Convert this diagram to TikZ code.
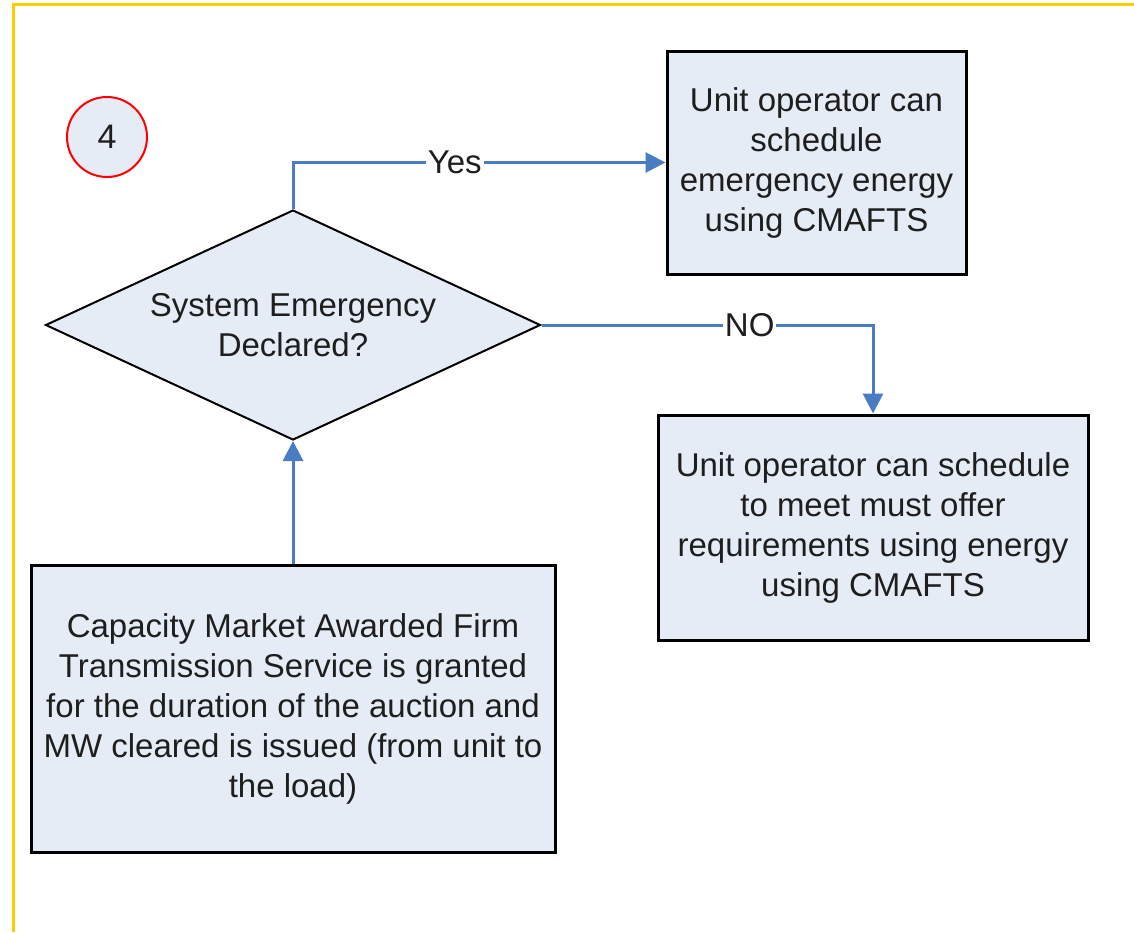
\documentclass[tikz,border=0pt]{standalone}
\usepackage{fontspec}
\setmainfont{Liberation Sans}
\usetikzlibrary{shapes.geometric,arrows.meta}
\definecolor{boxfill}{HTML}{E6ECF6}
\definecolor{flowblue}{HTML}{4A7CC4}
\definecolor{frameyellow}{HTML}{FFCC00}
\definecolor{inkgray}{HTML}{1E1E1E}
\begin{document}
\begin{tikzpicture}[x=1pt, y=-1pt, font=\fontsize{33}{40}\selectfont, text=inkgray]
    \tikzstyle{stepbox} = [rectangle, draw=black, line width=3pt, fill=boxfill, align=center, inner sep=0pt]
    \tikzstyle{decision} = [diamond, draw=black, line width=2pt, fill=boxfill, align=center, aspect=2.15, inner sep=0pt, minimum width=495pt, minimum height=230pt]
    \tikzstyle{flow} = [draw=flowblue, line width=3pt, -{Triangle[length=20pt,width=20pt]}]
    \tikzstyle{flowlabel} = [fill=white, inner sep=2pt]

    \useasboundingbox (0,0) rectangle (1134,932);
    % page frame
    \draw [frameyellow, line width=3pt] (13.5,932) -- (13.5,4.5) -- (1134,4.5);

    \node [circle, draw=red, line width=2pt, fill=boxfill, minimum size=80pt, inner sep=0pt, font=\fontsize{34}{40}\selectfont] (step) at (107,137) {4};

    \node [decision] (emerg) at (293,325) {System Emergency\\Declared?};
    \node [stepbox, minimum width=299pt, minimum height=223pt] (yesbox) at (816.5,162.5) {Unit operator can\\schedule\\emergency energy\\using CMAFTS};
    \node [stepbox, minimum width=430pt, minimum height=225pt] (nobox) at (873,527.5) {Unit operator can schedule\\to meet must offer\\requirements using energy\\using CMAFTS};
    \node [stepbox, minimum width=524pt, minimum height=287pt] (cmafts) at (293,708.5) {Capacity Market Awarded Firm\\Transmission Service is granted\\for the duration of the auction and\\MW cleared is issued (from unit to\\the load)};

    \draw [flow] (emerg.north) |- node [flowlabel, pos=0.717] {Yes} (yesbox.west);
    \draw [flow] (emerg.east) -| node [flowlabel, pos=0.314] {NO} (nobox.north);
    \draw [flow] (cmafts.north) -- (emerg.south);
\end{tikzpicture}
\end{document}
